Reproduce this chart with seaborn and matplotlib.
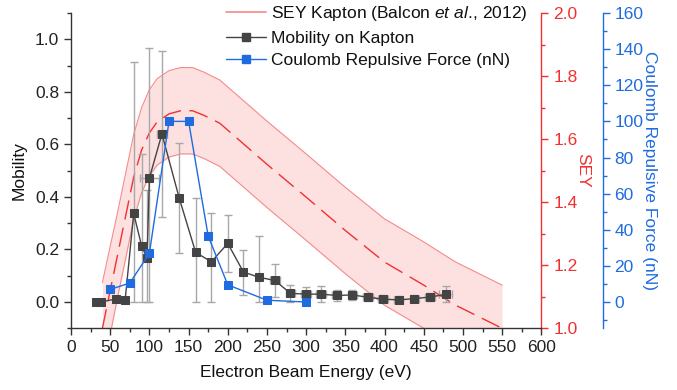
import numpy as np
import pandas as pd
import matplotlib
matplotlib.use("Agg")
import matplotlib.pyplot as plt
from matplotlib.lines import Line2D
from matplotlib.ticker import MultipleLocator
import seaborn as sns

# ---------------- data ----------------
sey_energy = [40, 50, 60, 70, 80, 90, 100, 110, 125, 140, 155, 170, 190, 250, 300, 350, 400, 450, 490, 550]
sey_mean = [1.00, 1.12, 1.24, 1.36, 1.48, 1.565, 1.62, 1.655, 1.68, 1.69, 1.69, 1.675, 1.65, 1.52, 1.416, 1.31, 1.21, 1.137, 1.074, 1.0]
sey_err = [0.145, 0.14, 0.135, 0.135, 0.135, 0.135, 0.137, 0.137, 0.137, 0.137, 0.137, 0.137, 0.137,
           0.137, 0.137, 0.137, 0.137, 0.137, 0.137, 0.137]

mob_energy = [32, 38, 58, 69, 80, 90, 97, 100, 116, 138, 159, 179, 200, 220, 240, 260, 280, 300,
              319, 339, 359, 379, 398, 418, 438, 458, 478]
mobility = [0.0, 0.0, 0.012, 0.006, 0.337, 0.214, 0.167, 0.472, 0.640, 0.396, 0.189, 0.153, 0.223,
            0.114, 0.094, 0.082, 0.033, 0.030, 0.030, 0.025, 0.027, 0.018, 0.011, 0.008, 0.013, 0.019, 0.029]
mob_err_lo = [0, 0, 0.01, 0.006, 0.337, 0.214, 0.167, 0.472, 0.316, 0.21, 0.189, 0.153, 0.109, 0.086,
              0.094, 0.063, 0.032, 0.026, 0.03, 0.02, 0.02, 0.015, 0.011, 0.008, 0.013, 0.015, 0.029]
mob_err_hi = [0, 0, 0.01, 0.01, 0.577, 0.35, 0.261, 0.495, 0.317, 0.209, 0.207, 0.186, 0.109, 0.085,
              0.156, 0.063, 0.032, 0.026, 0.032, 0.02, 0.02, 0.015, 0.015, 0.015, 0.015, 0.015, 0.033]
mob_xerr = [0, 0, 0, 0, 0, 0, 0, 12, 6, 0, 0, 0, 0, 0, 0, 6, 6, 6, 6, 6, 6, 6, 6, 6, 6, 6, 8.5]

force_energy = [50, 75, 100, 125, 150, 175, 200, 250, 300]
force_nN = [7.0, 10.5, 27.0, 100.0, 100.0, 36.5, 9.5, 1.0, 0.0]

sey_label = r"SEY Kapton (Balcon $\mathit{et\ al.}\!$, 2012)"
mob_label = "Mobility on Kapton"
force_label = "Coulomb Repulsive Force (nN)"

# ---------------- style ----------------
sns.set_theme(style="ticks")
plt.rcParams["font.family"] = ["Liberation Sans", "DejaVu Sans"]
plt.rcParams["mathtext.fontset"] = "custom"
plt.rcParams["mathtext.rm"] = "Liberation Sans"
plt.rcParams["mathtext.it"] = "Liberation Sans:italic"

RED = "#F23030"
RED_EDGE = "#F58A8A"
RED_FILL = "#FDE0E0"
BLUE = "#1F6BE0"
GRAY = "#444444"
ERR = "#A8A8A8"
AXC = "#333333"
FS = 12.5

fig = plt.figure(figsize=(6.77, 3.90), dpi=100)
ax_sey = fig.add_axes([0.1049, 0.1582, 0.6947, 0.8085])
ax_mob = ax_sey.twinx()
ax_f = ax_sey.twinx()

# ---------- SEY band (bottom layer) ----------
sey_df = pd.DataFrame({"E": sey_energy, "m": sey_mean, "e": sey_err})
lo = sey_df["m"] - sey_df["e"]
hi = sey_df["m"] + sey_df["e"]
ax_sey.fill_between(sey_df["E"], lo, hi, color=RED_FILL, lw=0)
ax_sey.plot(sey_df["E"], hi, color=RED_EDGE, lw=0.8)
ax_sey.plot(sey_df["E"], lo, color=RED_EDGE, lw=0.8)
sns.lineplot(data=sey_df, x="E", y="m", ax=ax_sey, color=RED, lw=1.0, sort=False,
             legend=False)
ax_sey.lines[-1].set_dashes((14, 6))
ax_sey.set_ylim(1.0, 2.0)
ax_sey.set_xlim(0, 600)

# ---------- mobility ----------
ax_mob.errorbar(mob_energy, mobility, yerr=[mob_err_lo, mob_err_hi], xerr=mob_xerr,
                fmt="none", ecolor=ERR, elinewidth=1.0, capsize=3, capthick=1.0)
mob_df = pd.DataFrame({"E": mob_energy, "m": mobility})
sns.lineplot(data=mob_df, x="E", y="m", ax=ax_mob, color=GRAY, lw=1.0, marker="s",
             markersize=5.8, markeredgecolor=GRAY, sort=False, legend=False)
ax_mob.set_ylim(-0.1, 1.1)

# ---------- force ----------
f_df = pd.DataFrame({"E": force_energy, "F": force_nN})
sns.lineplot(data=f_df, x="E", y="F", ax=ax_f, color=BLUE, lw=1.0, marker="s",
             markersize=5.8, markeredgecolor=BLUE, sort=False, legend=False)
ax_f.set_ylim(-160 * 0.1 / 1.1, 160)

# ---------- axes configuration ----------
ax_sey.xaxis.set_major_locator(MultipleLocator(50))
ax_sey.xaxis.set_minor_locator(MultipleLocator(25))
ax_sey.set_xlabel("Electron Beam Energy (eV)", fontsize=FS, color="#111111", labelpad=7)

ax_sey.yaxis.tick_right()
ax_sey.yaxis.set_label_position("right")
ax_sey.yaxis.set_major_locator(MultipleLocator(0.2))
ax_sey.yaxis.set_minor_locator(MultipleLocator(0.1))
ax_sey.set_ylabel("SEY", color=RED, fontsize=FS, rotation=270, labelpad=9)

ax_mob.yaxis.tick_left()
ax_mob.yaxis.set_label_position("left")
ax_mob.yaxis.set_major_locator(MultipleLocator(0.2))
ax_mob.yaxis.set_minor_locator(MultipleLocator(0.1))
ax_mob.set_ylabel("Mobility", fontsize=FS, color="#111111", labelpad=6)

ax_f.yaxis.tick_right()
ax_f.yaxis.set_label_position("right")
ax_f.yaxis.set_major_locator(MultipleLocator(20))
ax_f.yaxis.set_minor_locator(MultipleLocator(10))
ax_f.set_ylabel(force_label, color=BLUE, fontsize=FS, rotation=270, labelpad=10)

for a in (ax_sey, ax_mob, ax_f):
    for s in a.spines.values():
        s.set_visible(False)

ax_sey.spines["bottom"].set_visible(True)
ax_sey.spines["bottom"].set_color(AXC)
ax_sey.spines["bottom"].set_linewidth(1.0)
ax_sey.spines["right"].set_visible(True)
ax_sey.spines["right"].set_color(RED)
ax_sey.spines["right"].set_linewidth(1.0)
ax_mob.spines["left"].set_visible(True)
ax_mob.spines["left"].set_color(AXC)
ax_mob.spines["left"].set_linewidth(1.0)
ax_f.spines["right"].set_visible(True)
ax_f.spines["right"].set_position(("axes", 1.1306))
ax_f.spines["right"].set_color(BLUE)
ax_f.spines["right"].set_linewidth(1.0)

ax_sey.tick_params(axis="x", which="both", direction="out", colors=AXC, labelsize=FS, labelcolor="#222222")
ax_sey.tick_params(axis="x", which="major", length=5, width=1.0)
ax_sey.tick_params(axis="x", which="minor", length=3, width=1.0)
ax_sey.tick_params(axis="y", which="both", direction="out", colors=RED, labelsize=FS, labelcolor=RED)
ax_sey.tick_params(axis="y", which="major", length=5, width=1.0)
ax_sey.tick_params(axis="y", which="minor", length=3, width=1.0)
ax_mob.tick_params(axis="y", which="both", direction="out", colors=AXC, labelsize=FS, labelcolor="#222222")
ax_mob.tick_params(axis="y", which="major", length=5, width=1.0)
ax_mob.tick_params(axis="y", which="minor", length=3, width=1.0)
ax_f.tick_params(axis="y", which="both", direction="out", colors=BLUE, labelsize=FS, labelcolor=BLUE)
ax_f.tick_params(axis="y", which="major", length=5, width=1.0)
ax_f.tick_params(axis="y", which="minor", length=3, width=1.0)

ax_sey.yaxis.set_major_formatter(matplotlib.ticker.FormatStrFormatter("%.1f"))
ax_mob.yaxis.set_major_formatter(matplotlib.ticker.FormatStrFormatter("%.1f"))

handles = [
    Line2D([], [], color=RED_EDGE, lw=1.2),
    Line2D([], [], color=GRAY, lw=1.0, marker="s", markersize=5.8),
    Line2D([], [], color=BLUE, lw=1.0, marker="s", markersize=5.8),
]
leg = ax_f.legend(handles, [sey_label, mob_label, force_label], loc="upper left",
                  bbox_to_anchor=(0.315, 1.05), frameon=False, fontsize=FS,
                  handlelength=2.3, handletextpad=0.3, labelspacing=0.42,
                  borderaxespad=0.0)
for t in leg.get_texts():
    t.set_color("#111111")

fig.savefig("out.png", dpi=100)
